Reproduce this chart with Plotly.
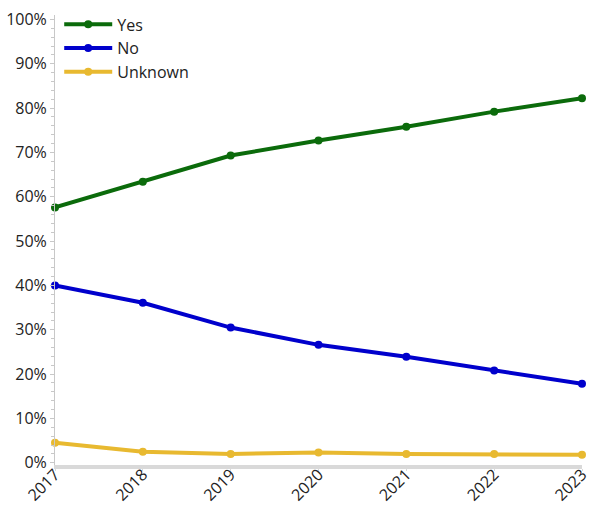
import plotly.graph_objects as go

years = ["2017", "2018", "2019", "2020", "2021", "2022", "2023"]
yes_vals = [57.6, 63.4, 69.3, 72.7, 75.8, 79.2, 82.2]
no_vals = [40.0, 36.1, 30.5, 26.6, 23.9, 20.8, 17.8]
unknown_vals = [4.5, 2.5, 2.0, 2.3, 2.0, 2.0, 1.8]
y_ticks = [0, 10, 20, 30, 40, 50, 60, 70, 80, 90, 100]
y_tick_labels = [f"{v}%" for v in y_ticks]

series = [("Yes", yes_vals, "#0b6b0b"), ("No", no_vals, "#0000cc"), ("Unknown", unknown_vals, "#e8b930")]

fig = go.Figure()
for name, vals, color in series:
    fig.add_trace(go.Scatter(
        x=list(range(len(years))), y=vals, name=name, mode="lines+markers",
        line=dict(color=color, width=4), marker=dict(color=color, size=8),
        cliponaxis=False,
    ))

font = "Open Sans, Noto Sans, sans-serif"
fig.update_layout(
    width=589, height=508,
    margin=dict(l=55, r=7, t=15, b=43),
    paper_bgcolor="white", plot_bgcolor="white",
    font=dict(family=font, size=16, color="#222"),
    showlegend=True,
    legend=dict(x=0.008, y=1.017, xanchor="left", yanchor="top", bgcolor="rgba(0,0,0,0)",
                font=dict(size=16), tracegroupgap=0, itemwidth=48),
    xaxis=dict(range=[0, 6], tickmode="array", tickvals=list(range(len(years))), ticktext=years,
               tickangle=-45, showgrid=False, zeroline=False, showline=True, automargin=False,
               linecolor="#d9d9d9", linewidth=4, ticks="outside", ticklen=2, tickcolor="#d9d9d9",
               tickfont=dict(size=16), ticklabelstandoff=-12, ticklabeloverflow="allow"),
    yaxis=dict(range=[-0.5, 101], tickmode="array", tickvals=y_ticks, ticktext=y_tick_labels,
               showgrid=False, automargin=False,
               zeroline=False, showline=True, linecolor="#c8c8c8", linewidth=1,
               ticks="outside", ticklen=4, tickcolor="#c8c8c8", tickfont=dict(size=16),
               minor=dict(tickmode="linear", tick0=0, dtick=2, ticks="outside", ticklen=3, tickcolor="#c8c8c8")),
)
fig.write_html("out.html", config={"displayModeBar": False},
               post_script="document.body.style.margin='0';document.body.style.overflow='hidden';")
